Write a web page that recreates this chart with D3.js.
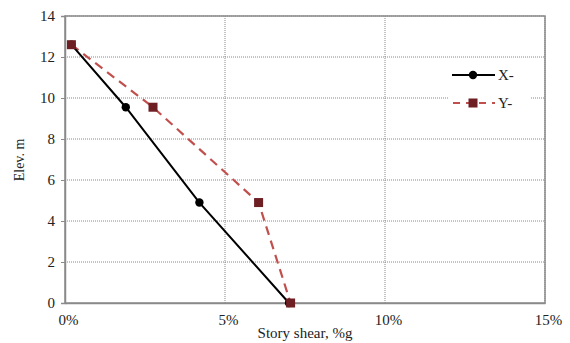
<!DOCTYPE html>
<html>
<head>
<meta charset="utf-8">
<script src="https://cdn.jsdelivr.net/npm/d3@7"></script>
<style>
  body { margin: 0; background: #fff; }
  text { font-family: "Liberation Serif", "Times New Roman", serif; fill: #222; }
</style>
</head>
<body>
<script>
const shearX = [0.2, 1.9, 4.2, 7.0]
const elevX = [12.6, 9.55, 4.9, 0]
const shearY = [0.2, 2.75, 6.05, 7.05]
const elevY = [12.6, 9.55, 4.9, 0]
const xTicks = [0, 5, 10, 15]
const yTicks = [0, 2, 4, 6, 8, 10, 12, 14]

const width = 570, height = 343
const margin = {top: 16, right: 25, bottom: 40, left: 65}

const svg = d3.select('body').append('svg')
  .attr('width', width)
  .attr('height', height)

const x = d3.scaleLinear().domain([0, 15]).range([margin.left, width - margin.right])
const y = d3.scaleLinear().domain([0, 14]).range([height - margin.bottom, margin.top])

// grid
svg.append('g')
  .selectAll('line.h')
  .data(yTicks.slice(1))
  .join('line')
  .attr('x1', x(0)).attr('x2', x(15))
  .attr('y1', d => y(d)).attr('y2', d => y(d))
  .attr('stroke', '#888').attr('stroke-dasharray', '1,1')

svg.append('g')
  .selectAll('line.v')
  .data(xTicks.slice(1))
  .join('line')
  .attr('y1', y(0)).attr('y2', y(14))
  .attr('x1', d => x(d)).attr('x2', d => x(d))
  .attr('stroke', '#888').attr('stroke-dasharray', '1,1')

// frame
svg.append('rect')
  .attr('x', x(0)).attr('y', y(14))
  .attr('width', x(15) - x(0)).attr('height', y(0) - y(14))
  .attr('fill', 'none').attr('stroke', '#8a8a8a').attr('stroke-width', 1.5)

// axes
const yAxis = svg.append('g')
  .attr('transform', `translate(${x(0)},0)`)
  .call(d3.axisLeft(y).tickValues(yTicks).tickSize(4).tickPadding(6))
yAxis.select('.domain').attr('stroke', '#8a8a8a').attr('stroke-width', 1.5)
yAxis.selectAll('.tick line').attr('stroke', '#8a8a8a')
yAxis.selectAll('text').attr('font-size', 15).attr('font-family', 'Liberation Serif')

const xAxis = svg.append('g')
  .attr('transform', `translate(0,${y(0)})`)
  .call(d3.axisBottom(x).tickValues(xTicks).tickFormat(d => d + '%').tickSize(0).tickPadding(11))
xAxis.select('.domain').attr('stroke', '#8a8a8a').attr('stroke-width', 1.5)
xAxis.selectAll('text').attr('font-size', 15).attr('font-family', 'Liberation Serif').attr('dx', 3)

svg.append('text')
  .attr('x', 305).attr('y', 338)
  .attr('text-anchor', 'middle')
  .attr('font-size', 15)
  .text('Story shear, %g')

svg.append('text')
  .attr('transform', 'translate(24,160) rotate(-90)')
  .attr('text-anchor', 'middle')
  .attr('font-size', 14)
  .text('Elev. m')

// series
const line = d3.line().x(d => x(d[0])).y(d => y(d[1]))
const dataX = d3.zip(shearX, elevX)
const dataY = d3.zip(shearY, elevY)

svg.append('path').datum(dataY)
  .attr('d', line).attr('fill', 'none')
  .attr('stroke', '#c0504d').attr('stroke-width', 2.2)
  .attr('stroke-dasharray', '9,6')

svg.append('path').datum(dataX)
  .attr('d', line).attr('fill', 'none')
  .attr('stroke', '#000').attr('stroke-width', 2)

svg.append('g').selectAll('circle')
  .data(dataX)
  .join('circle')
  .attr('cx', d => x(d[0])).attr('cy', d => y(d[1]))
  .attr('r', 4.2).attr('fill', '#000')

svg.append('g').selectAll('rect')
  .data(dataY)
  .join('rect')
  .attr('x', d => x(d[0]) - 4.5).attr('y', d => y(d[1]) - 4.5)
  .attr('width', 9).attr('height', 9)
  .attr('fill', '#6e1f24')

// legend
const legend = svg.append('g')
legend.append('rect').attr('x', 448).attr('y', 64).attr('width', 82).attr('height', 50).attr('fill', '#fff')
legend.append('line').attr('x1', 452).attr('x2', 495).attr('y1', 75).attr('y2', 75)
  .attr('stroke', '#000').attr('stroke-width', 2)
legend.append('circle').attr('cx', 473).attr('cy', 75).attr('r', 4.2).attr('fill', '#000')
legend.append('text').attr('x', 498).attr('y', 80).attr('font-size', 15).text('X-')

legend.append('line').attr('x1', 452).attr('x2', 495).attr('y1', 103).attr('y2', 103)
  .attr('stroke', '#c0504d').attr('stroke-width', 2.2).attr('stroke-dasharray', '7,6').attr('stroke-dashoffset', -1)
legend.append('rect').attr('x', 468.5).attr('y', 98.5).attr('width', 9).attr('height', 9).attr('fill', '#6e1f24')
legend.append('text').attr('x', 498).attr('y', 108).attr('font-size', 15).text('Y-')
</script>
</body>
</html>
